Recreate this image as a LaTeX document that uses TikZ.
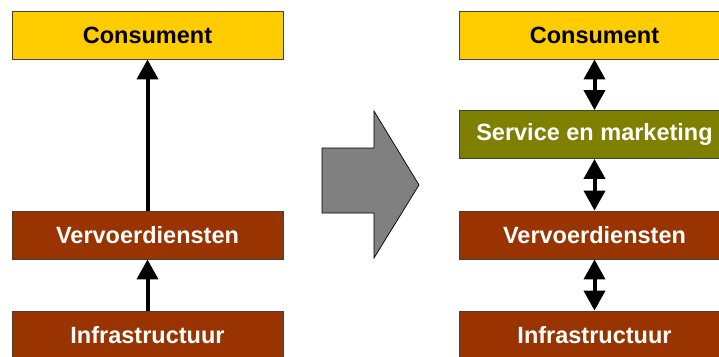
\documentclass[tikz,border=0pt]{standalone}
\usepackage{fontspec}
\setmainfont{Liberation Sans}
\usetikzlibrary{arrows.meta}
\definecolor{cyellow}{HTML}{FFCC00}
\definecolor{cbrown}{HTML}{993300}
\definecolor{colive}{HTML}{808000}
\begin{document}
\begin{tikzpicture}[x=1pt,y=-1pt,
  layer/.style={draw=black!75,line width=0.9pt,minimum width=271pt,minimum height=48pt,
    inner sep=0pt,font=\fontsize{23.5}{26}\selectfont\bfseries},
  dark/.style={layer,text=white},
  light/.style={layer,text=black},
  uparrow/.style={line width=4pt,-{Triangle[width=21pt,length=20pt]}},
  bothways/.style={line width=4pt,{Triangle[width=21pt,length=20pt]}-{Triangle[width=21pt,length=20pt]}}]
\useasboundingbox (0,0) rectangle (719,356);
\clip (0,0) rectangle (719,356);
% before: a one-way chain
\node[light,fill=cyellow] (c1) at (147.5,35) {Consument};
\node[dark,fill=cbrown] (v1) at (147.5,235) {Vervoerdiensten};
\node[dark,fill=cbrown] (i1) at (147.5,335) {Infrastructuur};
\draw[uparrow] (v1) -- (c1);
\draw[uparrow] (i1) -- (v1);
% transition arrow
\draw[fill=black!50,draw=black,line width=0.7pt]
  (322,148) -- (374,148) -- (374,111) -- (419,185) -- (374,258) -- (374,213) -- (322,213) -- cycle;
% after: a two-way chain with a service layer
\node[light,fill=cyellow] (c2) at (594.5,35) {Consument};
\node[dark,fill=colive] (s2) at (594.5,134.5) {Service en marketing};
\node[dark,fill=cbrown] (v2) at (594.5,235) {Vervoerdiensten};
\node[dark,fill=cbrown] (i2) at (594.5,335) {Infrastructuur};
\draw[bothways] (c2) -- (s2);
\draw[bothways] (s2) -- (v2);
\draw[bothways] (v2) -- (i2);
\end{tikzpicture}
\end{document}
